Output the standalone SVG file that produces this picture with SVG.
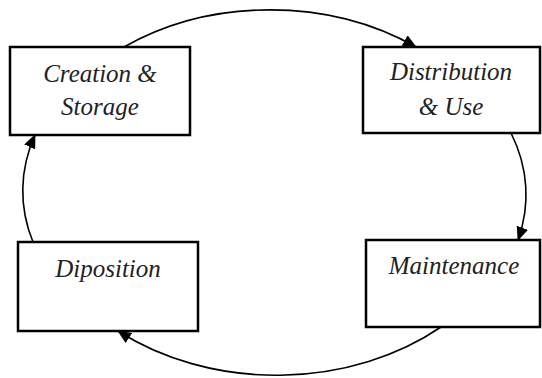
<svg xmlns="http://www.w3.org/2000/svg" width="542" height="378" viewBox="0 0 542 378">
<style>
.box{fill:#fff;stroke:#000;stroke-width:2.5}
.lbl{font-family:"Liberation Serif","Times New Roman",serif;font-style:italic;font-size:25px;fill:#222;text-anchor:middle}
.con{fill:none;stroke:#000;stroke-width:1.6;marker-end:url(#ah)}
</style>
<defs>
<marker id="ah" markerUnits="userSpaceOnUse" markerWidth="14" markerHeight="12" refX="13" refY="6" orient="auto">
<path d="M0,0 L14,6 L0,12 z" fill="#000"/>
</marker>
</defs>
<rect width="542" height="378" fill="#fff"/>
<g id="connectors">
<path class="con" d="M124,47 A 251 199 0 0 1 416,47"/>
<path class="con" d="M511,133 A 251 181 0 0 1 518,240"/>
<path class="con" d="M441,327 A 251 197 0 0 1 118,331"/>
<path class="con" d="M33,242 A 251 181 0 0 1 35,135"/>
</g>
<g id="creation">
<rect class="box" x="10" y="47" width="180" height="88"/>
<text class="lbl" x="100" y="82">Creation &amp;</text>
<text class="lbl" x="100" y="115">Storage</text>
</g>
<g id="distribution">
<rect class="box" x="363" y="47" width="177" height="86"/>
<text class="lbl" x="451" y="80">Distribution</text>
<text class="lbl" x="451" y="115">&amp; Use</text>
</g>
<g id="maintenance">
<rect class="box" x="366" y="240" width="174" height="87"/>
<text class="lbl" x="454" y="274">Maintenance</text>
</g>
<g id="diposition">
<rect class="box" x="18" y="242" width="180" height="89"/>
<text class="lbl" x="108" y="277">Diposition</text>
</g>
</svg>
